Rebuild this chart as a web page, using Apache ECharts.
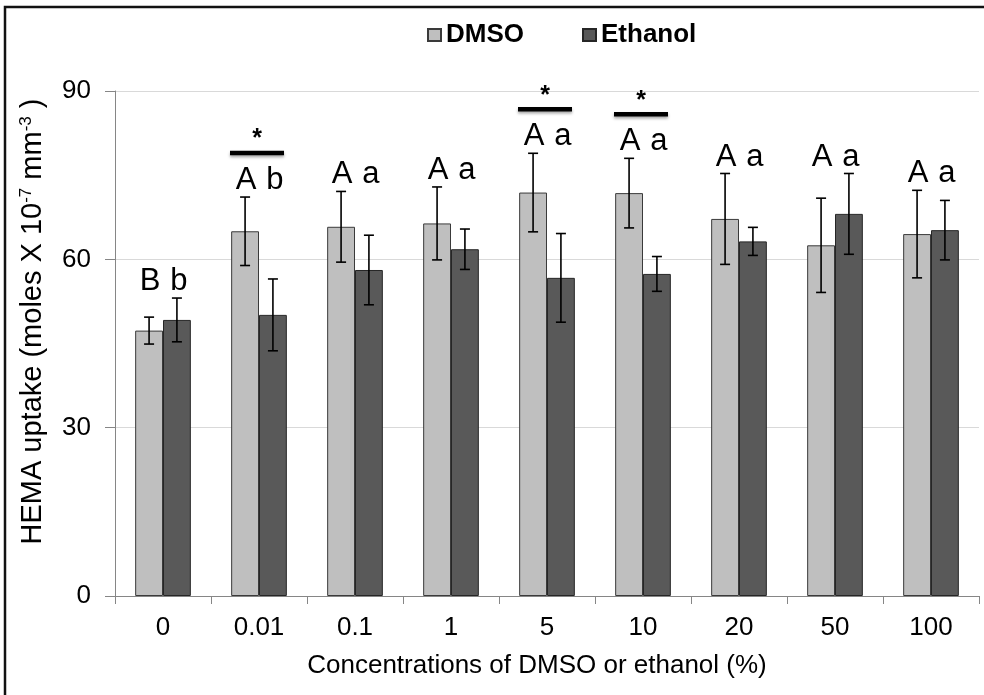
<!DOCTYPE html>
<html>
<head>
<meta charset="utf-8">
<script src="https://cdn.jsdelivr.net/npm/echarts@6/dist/echarts.min.js"></script>
<style>
html,body{margin:0;padding:0;background:#fff;}
#chart{width:984px;height:695px;}
</style>
</head>
<body>
<div id="chart"></div>
<script>
const categories = ['0', '0.01', '0.1', '1', '5', '10', '20', '50', '100'];
const dmsoMean = [47.3, 65.0, 65.8, 66.4, 71.9, 71.8, 67.2, 62.5, 64.5];
const dmsoSD   = [2.4, 6.1, 6.3, 6.5, 7.0, 6.2, 8.1, 8.4, 7.8];
const ethMean  = [49.2, 50.1, 58.1, 61.8, 56.7, 57.4, 63.2, 68.1, 65.2];
const ethSD    = [3.9, 6.4, 6.2, 3.6, 7.9, 3.1, 2.5, 7.2, 5.3];
const dmsoLetters = ['B', 'A', 'A', 'A', 'A', 'A', 'A', 'A', 'A'];
const ethLetters  = ['b', 'b', 'a', 'a', 'a', 'a', 'a', 'a', 'a'];
const significant = [false, true, false, false, true, true, false, false, false];
const yTicks = [0, 30, 60, 90];

const FONT = "'Liberation Sans', Arial, sans-serif";
const CAT_GAP = 0.42;

const chart = echarts.init(document.getElementById('chart'), null, {renderer: 'canvas'});

function barOffset(api, which) {
  const bw = api.size([1, 0])[0];
  const barW = bw * (1 - CAT_GAP) / 2;
  return (which === 0 ? -0.5 : 0.5) * barW;
}

function errRender(which) {
  return function (params, api) {
    const i = api.value(0), m = api.value(1), s = api.value(2);
    const off = barOffset(api, which);
    const t = api.coord([i, m + s]);
    const b = api.coord([i, m - s]);
    const x = t[0] + off;
    const st = {stroke: '#000', lineWidth: 1.6};
    return {
      type: 'group',
      children: [
        {type: 'line', shape: {x1: x, y1: t[1], x2: x, y2: b[1]}, style: st},
        {type: 'line', shape: {x1: x - 5, y1: t[1], x2: x + 5, y2: t[1]}, style: st},
        {type: 'line', shape: {x1: x - 5, y1: b[1], x2: x + 5, y2: b[1]}, style: st}
      ]
    };
  };
}

const annotData = categories.map((c, i) => [i, Math.max(dmsoMean[i] + dmsoSD[i], ethMean[i] + ethSD[i]), dmsoLetters[i], ethLetters[i], significant[i] ? 1 : 0]);

function annotRender(params, api) {
  const i = api.value(0), top = api.value(1);
  const p = api.coord([i, top]);
  const bw = api.size([1, 0])[0];
  const barW = bw * (1 - CAT_GAP) / 2;
  const d = annotData[params.dataIndex];
  const children = [
    {type: 'text', x: p[0] - barW / 2 + 1, y: p[1] - 1,
      style: {text: d[2], fontSize: 31, fontFamily: FONT, fill: '#000', align: 'center', verticalAlign: 'bottom'}},
    {type: 'text', x: p[0] + barW / 2 + 2, y: p[1] - 1,
      style: {text: d[3], fontSize: 31, fontFamily: FONT, fill: '#000', align: 'center', verticalAlign: 'bottom'}}
  ];
  if (d[4]) {
    const yb = p[1] - 44;
    children.push({type: 'line', shape: {x1: p[0] - 29, y1: yb, x2: p[0] + 25, y2: yb},
      style: {stroke: '#000', lineWidth: 4.5, shadowColor: 'rgba(0,0,0,0.35)', shadowBlur: 3, shadowOffsetY: 2}});
    children.push({type: 'text', x: p[0] - 2, y: yb - 1,
      style: {text: '*', fontSize: 25, fontWeight: 'bold', fontFamily: FONT, fill: '#000', align: 'center', verticalAlign: 'bottom'}});
  }
  return {type: 'group', children: children};
}

const option = {
  backgroundColor: '#fff',
  animation: false,
  textStyle: {fontFamily: FONT},
  graphic: [
    {type: 'rect', shape: {x: 5, y: 7, width: 1200, height: 1000}, style: {fill: 'none', stroke: '#111', lineWidth: 2.5}, z: 100}
  ],
  legend: {
    data: ['DMSO', 'Ethanol'],
    left: 422, top: 17,
    itemWidth: 13, itemHeight: 12, itemGap: 58,
    icon: 'rect',
    textStyle: {fontSize: 26, fontWeight: 'bold', color: '#000', fontFamily: FONT, padding: [0, 0, 0, 0]}
  },
  grid: {left: 115, right: 5, top: 91, bottom: 99, containLabel: false},
  xAxis: {
    type: 'category',
    data: categories,
    name: 'Concentrations of DMSO or ethanol (%)',
    nameLocation: 'middle',
    nameGap: 57,
    nameTextStyle: {fontSize: 26, color: '#000', fontFamily: FONT, padding: [0, 20, 0, 0]},
    axisLine: {lineStyle: {color: '#868686', width: 1}},
    axisTick: {show: true, length: 8, lineStyle: {color: '#868686'}},
    axisLabel: {fontSize: 26, color: '#000', margin: 19, fontFamily: FONT},
    splitLine: {show: false}
  },
  yAxis: {
    type: 'value',
    min: 0, max: 90, interval: 30,
    name: 'HEMA uptake (moles X 10{sup|-7} mm{sup|-3} )',
    nameLocation: 'middle',
    nameRotate: 90,
    nameGap: 68,
    nameTextStyle: {
      fontSize: 29, color: '#000', fontFamily: FONT, padding: [0, 0, 0, 44],
      rich: {sup: {fontSize: 17, verticalAlign: 'top', color: '#000', fontFamily: FONT, lineHeight: 17}}
    },
    axisLine: {show: true, lineStyle: {color: '#868686', width: 1}},
    axisTick: {show: true, length: 10, lineStyle: {color: '#868686'}},
    axisLabel: {fontSize: 26, color: '#000', margin: 24, fontFamily: FONT,
      formatter: v => (yTicks.indexOf(v) >= 0 ? String(v) : '')},
    splitLine: {show: true, lineStyle: {color: '#d9d9d9', width: 1}}
  },
  series: [
    {
      name: 'DMSO', type: 'bar', data: dmsoMean,
      barGap: '0%', barCategoryGap: (CAT_GAP * 100) + '%',
      itemStyle: {color: '#bfbfbf', borderColor: '#3a3a3a', borderWidth: 1}
    },
    {
      name: 'Ethanol', type: 'bar', data: ethMean,
      barGap: '0%', barCategoryGap: (CAT_GAP * 100) + '%',
      itemStyle: {color: '#595959', borderColor: '#262626', borderWidth: 1}
    },
    {
      type: 'custom', name: 'errD', renderItem: errRender(0), z: 5,
      data: dmsoMean.map((m, i) => [i, m, dmsoSD[i]]), silent: true
    },
    {
      type: 'custom', name: 'errE', renderItem: errRender(1), z: 5,
      data: ethMean.map((m, i) => [i, m, ethSD[i]]), silent: true
    },
    {
      type: 'custom', name: 'annot', renderItem: annotRender, z: 6,
      data: annotData.map(d => [d[0], d[1]]), silent: true
    }
  ]
};
chart.setOption(option);
</script>
</body>
</html>
